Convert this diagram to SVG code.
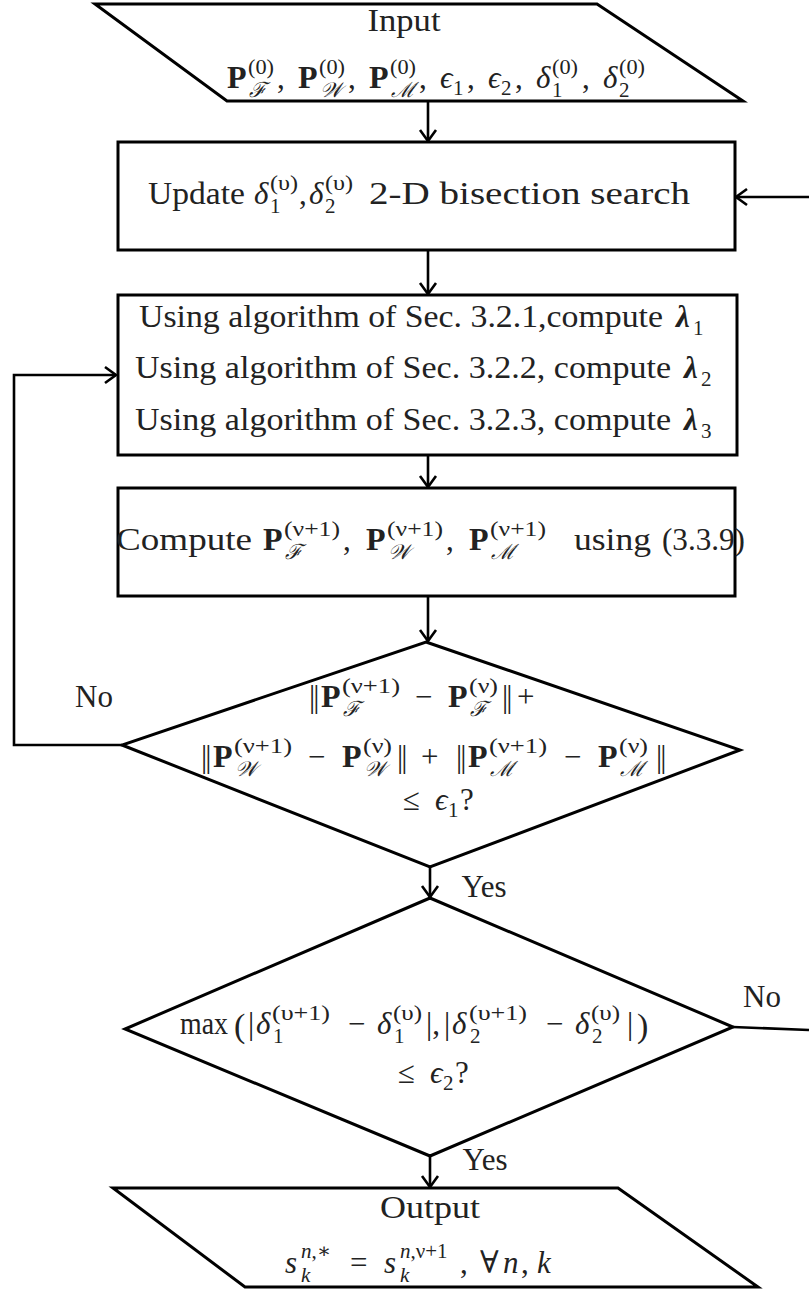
<svg xmlns="http://www.w3.org/2000/svg" width="809" height="1290" viewBox="0 0 809 1290">
<defs>
<marker id="ah" markerUnits="userSpaceOnUse" markerWidth="30" markerHeight="30" refX="0" refY="0" viewBox="-15 -15 30 30" orient="auto">
<path d="M-11,-8 L0,0 L-11,8" fill="none" stroke="#000" stroke-width="2.6" stroke-linejoin="miter"/>
</marker>
<style>
.shape{fill:#fff;stroke:#000;stroke-width:3;stroke-linejoin:miter}
.con{fill:none;stroke:#000;stroke-width:2.6}
text{font-family:"Liberation Serif","DejaVu Serif",serif;font-size:31px;fill:#222}
.s{font-size:21px}
.i{font-style:italic}
.b{font-weight:bold}
.P{font-weight:bold;font-size:32px}
.c{text-anchor:middle}
.n{letter-spacing:-2px}
</style>
</defs>
<rect width="809" height="1290" fill="#fff"/>

<g id="connectors">
<line class="con" x1="428" y1="101" x2="428" y2="141" marker-end="url(#ah)"/>
<line class="con" x1="428" y1="250" x2="428" y2="294" marker-end="url(#ah)"/>
<line class="con" x1="428" y1="455" x2="428" y2="487" marker-end="url(#ah)"/>
<line class="con" x1="428" y1="596" x2="428" y2="641" marker-end="url(#ah)"/>
<line class="con" x1="430" y1="867" x2="430" y2="897" marker-end="url(#ah)"/>
<line class="con" x1="430" y1="1156" x2="430" y2="1187" marker-end="url(#ah)"/>
<polyline class="con" points="122,745 14,745 14,375 116,375" marker-end="url(#ah)"/>
<line class="con" x1="733" y1="1027" x2="809" y2="1030"/>
<line class="con" x1="809" y1="197" x2="736" y2="197" marker-end="url(#ah)"/>
<text x="94" y="707" class="c">No</text>
<text x="484" y="897" class="c">Yes</text>
<text x="762" y="1007" class="c">No</text>
<text x="485" y="1170" class="c">Yes</text>
</g>

<g id="input">
<polygon class="shape" points="95,4 597,4 743,101 227,101"/>
<text x="404" y="31" class="c" textLength="73" lengthAdjust="spacingAndGlyphs">Input</text>
<text y="88"><tspan class="P" x="227">P</tspan><tspan class="s" x="248" y="74" textLength="26" lengthAdjust="spacingAndGlyphs">(0)</tspan><tspan class="s i" x="249" y="97">ℱ</tspan><tspan x="277" y="88">,</tspan><tspan class="P" x="298">P</tspan><tspan class="s" x="319" y="74" textLength="26" lengthAdjust="spacingAndGlyphs">(0)</tspan><tspan class="s i" x="320" y="97">𝒲</tspan><tspan x="348" y="88">,</tspan><tspan class="P" x="369">P</tspan><tspan class="s" x="390" y="74" textLength="26" lengthAdjust="spacingAndGlyphs">(0)</tspan><tspan class="s i" x="391" y="97">ℳ</tspan><tspan x="419" y="88">,</tspan><tspan class="i" x="440">ϵ</tspan><tspan class="s" x="453" y="95">1</tspan><tspan x="467" y="88">,</tspan><tspan class="i" x="488">ϵ</tspan><tspan class="s" x="501" y="95">2</tspan><tspan x="515" y="88">,</tspan><tspan class="i" x="536">δ</tspan><tspan class="s" x="552" y="74" textLength="26" lengthAdjust="spacingAndGlyphs">(0)</tspan><tspan class="s" x="552" y="97">1</tspan><tspan x="582" y="88">,</tspan><tspan class="i" x="603">δ</tspan><tspan class="s" x="619" y="74" textLength="26" lengthAdjust="spacingAndGlyphs">(0)</tspan><tspan class="s" x="619" y="97">2</tspan></text>
</g>

<g id="update">
<rect class="shape" x="118" y="142" width="617" height="108"/>
<text x="148" y="204" textLength="97" lengthAdjust="spacingAndGlyphs">Update</text>
<text y="204"><tspan class="i" x="254">δ</tspan><tspan class="s" x="270" y="190" textLength="28" lengthAdjust="spacingAndGlyphs">(υ)</tspan><tspan class="s" x="270" y="213">1</tspan><tspan x="299" y="204">,</tspan><tspan class="i" x="309">δ</tspan><tspan class="s" x="325" y="190" textLength="28" lengthAdjust="spacingAndGlyphs">(υ)</tspan><tspan class="s" x="325" y="213">2</tspan></text>
<text x="369" y="204" textLength="321" lengthAdjust="spacingAndGlyphs">2-D bisection search</text>
</g>

<g id="lambda">
<rect class="shape" x="118" y="295" width="619" height="160"/>
<text x="139" y="327" textLength="524" lengthAdjust="spacingAndGlyphs">Using algorithm of Sec. 3.2.1,compute</text>
<text y="327"><tspan class="b i" x="676">λ</tspan><tspan class="s" x="693" y="335">1</tspan></text>
<text x="135" y="378" textLength="536" lengthAdjust="spacingAndGlyphs">Using algorithm of Sec. 3.2.2, compute</text>
<text y="378"><tspan class="b i" x="684">λ</tspan><tspan class="s" x="701" y="386">2</tspan></text>
<text x="135" y="430" textLength="536" lengthAdjust="spacingAndGlyphs">Using algorithm of Sec. 3.2.3, compute</text>
<text y="430"><tspan class="b i" x="684">λ</tspan><tspan class="s" x="701" y="438">3</tspan></text>
</g>

<g id="compute">
<rect class="shape" x="118" y="488" width="617" height="108"/>
<text x="116" y="550" textLength="136" lengthAdjust="spacingAndGlyphs">Compute</text>
<text y="550"><tspan class="P" x="263">P</tspan><tspan class="s" x="284" y="536" textLength="56" lengthAdjust="spacingAndGlyphs">(ν+1)</tspan><tspan class="s i" x="285" y="559">ℱ</tspan><tspan x="343" y="550">,</tspan><tspan class="P" x="366">P</tspan><tspan class="s" x="387" y="536" textLength="56" lengthAdjust="spacingAndGlyphs">(ν+1)</tspan><tspan class="s i" x="388" y="559">𝒲</tspan><tspan x="446" y="550">,</tspan><tspan class="P" x="469">P</tspan><tspan class="s" x="490" y="536" textLength="56" lengthAdjust="spacingAndGlyphs">(ν+1)</tspan><tspan class="s i" x="491" y="559">ℳ</tspan></text>
<text x="574" y="550" textLength="77" lengthAdjust="spacingAndGlyphs">using</text>
<text x="662" y="550" textLength="83" lengthAdjust="spacingAndGlyphs">(3.3.9)</text>
</g>

<g id="check1">
<polygon class="shape" points="426,642 740,750 430,867 122,745"/>
<text y="707"><tspan class="n" x="309">||</tspan><tspan class="P" x="321">P</tspan><tspan class="s" x="342" y="693" textLength="58" lengthAdjust="spacingAndGlyphs">(ν+1)</tspan><tspan class="s i" x="343" y="716">ℱ</tspan><tspan x="415" y="707">−</tspan><tspan class="P" x="448">P</tspan><tspan class="s" x="469" y="693" textLength="29" lengthAdjust="spacingAndGlyphs">(ν)</tspan><tspan class="s i" x="470" y="716">ℱ</tspan><tspan class="n" x="502" y="707">||</tspan><tspan x="517">+</tspan></text>
<text y="767"><tspan class="n" x="201">||</tspan><tspan class="P" x="213">P</tspan><tspan class="s" x="234" y="753" textLength="58" lengthAdjust="spacingAndGlyphs">(ν+1)</tspan><tspan class="s i" x="235" y="776">𝒲</tspan><tspan x="308" y="767">−</tspan><tspan class="P" x="342">P</tspan><tspan class="s" x="363" y="753" textLength="29" lengthAdjust="spacingAndGlyphs">(ν)</tspan><tspan class="s i" x="364" y="776">𝒲</tspan><tspan class="n" x="397" y="767">||</tspan><tspan x="421">+</tspan><tspan class="n" x="456">||</tspan><tspan class="P" x="468">P</tspan><tspan class="s" x="489" y="753" textLength="58" lengthAdjust="spacingAndGlyphs">(ν+1)</tspan><tspan class="s i" x="490" y="776">ℳ</tspan><tspan x="564" y="767">−</tspan><tspan class="P" x="598">P</tspan><tspan class="s" x="619" y="753" textLength="29" lengthAdjust="spacingAndGlyphs">(ν)</tspan><tspan class="s i" x="620" y="776">ℳ</tspan><tspan class="n" x="656" y="767">||</tspan></text>
<text y="810"><tspan x="403">≤</tspan><tspan class="i" x="435">ϵ</tspan><tspan class="s" x="448" y="817">1</tspan><tspan x="460" y="810">?</tspan></text>
</g>

<g id="check2">
<polygon class="shape" points="430,898 733,1027 430,1156 125,1029"/>
<text y="1034"><tspan x="180" textLength="48" lengthAdjust="spacingAndGlyphs">max</tspan><tspan x="234" y="1037" style="font-size:34px">(</tspan><tspan x="248" y="1034">|</tspan><tspan class="i" x="256">δ</tspan><tspan class="s" x="272" y="1020" textLength="58" lengthAdjust="spacingAndGlyphs">(υ+1)</tspan><tspan class="s" x="273" y="1043">1</tspan><tspan x="348" y="1034">−</tspan><tspan class="i" x="377">δ</tspan><tspan class="s" x="393" y="1020" textLength="29" lengthAdjust="spacingAndGlyphs">(υ)</tspan><tspan class="s" x="394" y="1043">1</tspan><tspan x="426" y="1034">|,</tspan><tspan x="444">|</tspan><tspan class="i" x="452">δ</tspan><tspan class="s" x="469" y="1020" textLength="58" lengthAdjust="spacingAndGlyphs">(υ+1)</tspan><tspan class="s" x="470" y="1043">2</tspan><tspan x="546" y="1034">−</tspan><tspan class="i" x="575">δ</tspan><tspan class="s" x="591" y="1020" textLength="29" lengthAdjust="spacingAndGlyphs">(υ)</tspan><tspan class="s" x="592" y="1043">2</tspan><tspan x="627" y="1034">|</tspan><tspan x="637" y="1037" style="font-size:34px">)</tspan></text>
<text y="1083"><tspan x="398">≤</tspan><tspan class="i" x="430">ϵ</tspan><tspan class="s" x="443" y="1090">2</tspan><tspan x="455" y="1083">?</tspan></text>
</g>

<g id="output">
<polygon class="shape" points="113,1188 618,1188 758,1287 245,1287"/>
<text x="430" y="1218" class="c" textLength="100" lengthAdjust="spacingAndGlyphs">Output</text>
<text y="1273"><tspan class="i" x="285">s</tspan><tspan class="s i" x="301" y="1258">n</tspan><tspan class="s" y="1258">,∗</tspan><tspan class="s i" x="301" y="1282">k</tspan><tspan x="350" y="1273">=</tspan><tspan class="i" x="384">s</tspan><tspan class="s i" x="400" y="1258">n</tspan><tspan class="s" y="1258">,ν+1</tspan><tspan class="s i" x="400" y="1282">k</tspan><tspan x="460" y="1273">,</tspan><tspan x="480">∀</tspan><tspan class="i" x="503">n</tspan><tspan x="521">,</tspan><tspan class="i" x="537">k</tspan></text>
</g>
</svg>
